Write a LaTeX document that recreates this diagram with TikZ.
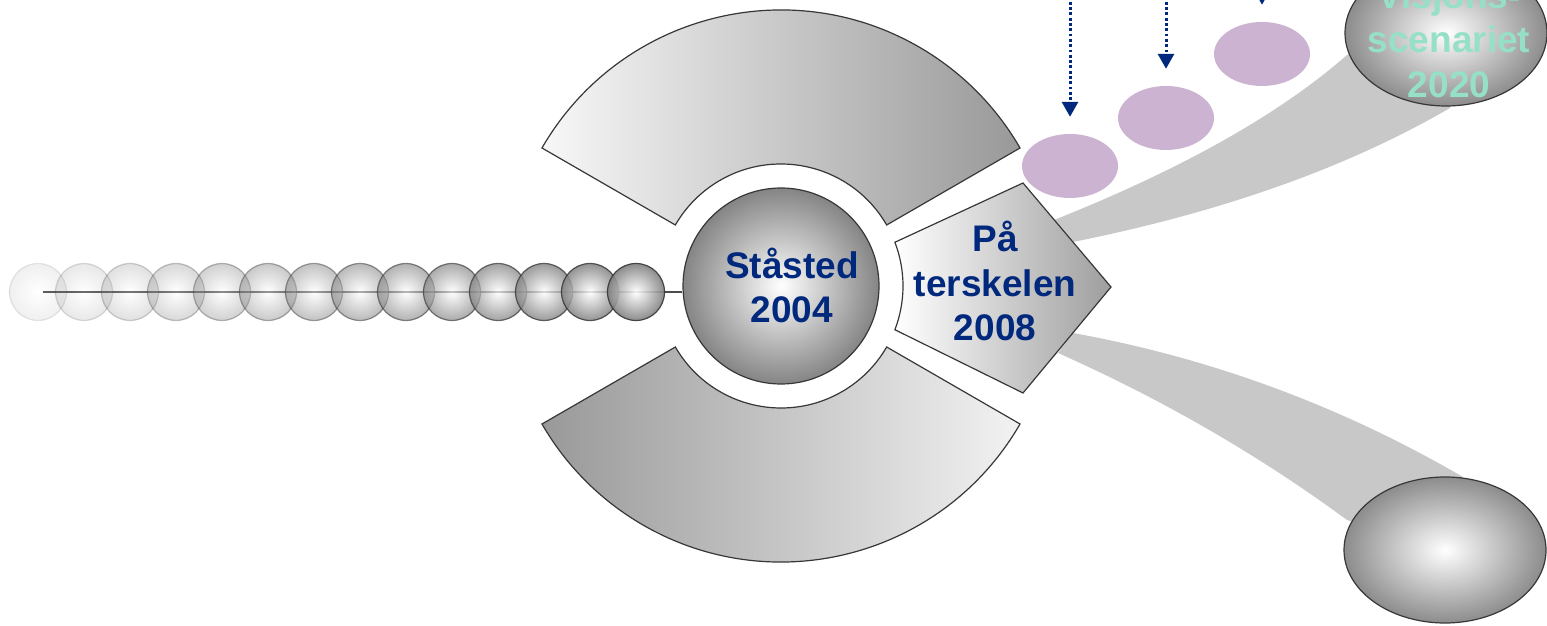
\documentclass[tikz,border=0pt]{standalone}
\usepackage{fontspec}
\setmainfont{Liberation Sans}
\usetikzlibrary{shapes.geometric,arrows.meta}
\definecolor{navy}{RGB}{0,40,125}
\definecolor{mint}{RGB}{150,224,200}
\definecolor{lilac}{RGB}{203,179,209}
\definecolor{bandgray}{RGB}{200,200,200}
\definecolor{rim}{RGB}{55,55,55}
\tikzset{
  ball/.style={circle,draw=rim,line width=1.2pt,inner sep=0,minimum size=57pt,inner color=white,outer color=black!50},
  bigball/.style={circle,draw=rim,line width=1.2pt,inner sep=0,minimum size=196pt,inner color=white,outer color=black!48},
  goal/.style={ellipse,draw=rim,line width=1.2pt,inner sep=0,minimum width=202pt,minimum height=146pt,inner color=white,outer color=black!45},
  milestone/.style={ellipse,fill=lilac,inner sep=0,minimum width=96pt,minimum height=64pt},
  ringtop/.style={draw=rim,line width=1.2pt,left color=black!3,right color=black!40},
  ringbot/.style={draw=rim,line width=1.2pt,left color=black!40,right color=black!5},
  pent/.style={draw=rim,line width=1.2pt,left color=white,right color=black!38},
  chainline/.style={draw=black!70,line width=2.2pt},
  drop/.style={navy,line width=3pt,dash pattern=on 2.8pt off 2.5pt,-{Triangle[width=16pt,length=15pt]}},
  txt/.style={text=navy,font=\fontsize{37}{44.5}\selectfont\bfseries,align=center,inner sep=0}
}
\begin{document}
\begin{tikzpicture}[x=1pt,y=1pt]
\useasboundingbox (0,0) rectangle (1547,626);
\clip (0,0) rectangle (1547,626);

\coordinate (o) at (781,340);
\coordinate (top) at (0,640);

% gray bands
\fill[bandgray] (1054,406) .. controls (1187,459) and (1282,514) .. (1347,571) -- (1446,593) -- (1450,518) .. controls (1350,460) and (1227,415) .. (1073,384) -- cycle;
\fill[bandgray] (1073,293) .. controls (1211,268) and (1341,220) .. (1463,149) -- (1445,76) -- (1347,106) .. controls (1256,173) and (1159,228) .. (1058,273) -- cycle;

% ring pieces
\draw[ringtop] ([shift={(30:122)}]o) arc[start angle=30,end angle=150,radius=122] -- ([shift={(150:276)}]o) arc[start angle=150,end angle=30,radius=276] -- cycle;
\draw[ringbot] ([shift={(210:122)}]o) arc[start angle=210,end angle=330,radius=122] -- ([shift={(330:276)}]o) arc[start angle=330,end angle=210,radius=276] -- cycle;

% arrow piece
\draw[pent] ([shift={(21:122)}]o) -- (1023,443) -- (1111,339) -- (1023,233) -- ([shift={(-21:122)}]o) arc[start angle=-21,end angle=21,radius=122] -- cycle;

% centre
\node[bigball] (sted) at (o) {};

% chain
\coordinate (cstart) at (43,334);
\draw[chainline] (cstart) -- (cstart -| sted.west);
\node[ball,opacity=0.12] (b1) at (38,334) {};
\node[ball,opacity=0.18] (b2) at (84,334) {};
\node[ball,opacity=0.24] (b3) at (130,334) {};
\node[ball,opacity=0.30] (b4) at (176,334) {};
\node[ball,opacity=0.36] (b5) at (222,334) {};
\node[ball,opacity=0.42] (b6) at (268,334) {};
\node[ball,opacity=0.48] (b7) at (314,334) {};
\node[ball,opacity=0.54] (b8) at (360,334) {};
\node[ball,opacity=0.60] (b9) at (406,334) {};
\node[ball,opacity=0.66] (b10) at (452,334) {};
\node[ball,opacity=0.72] (b11) at (498,334) {};
\node[ball,opacity=0.78] (b12) at (544,334) {};
\node[ball,opacity=0.84] (b13) at (590,334) {};
\node[ball,opacity=0.90] (b14) at (636,334) {};

% milestones
\node[milestone] (m1) at (1070,460) {};
\node[milestone] (m2) at (1166,508) {};
\node[milestone] (m3) at (1262,572) {};

% arrows
\draw[drop] (m1.north |- top) -- ([yshift=17pt]m1.north);
\draw[drop] (m2.north |- top) -- ([yshift=17pt]m2.north);
\draw[drop] (m3.north |- top) -- ([yshift=17pt]m3.north);

% goals
\node[goal] (vision) at (1446,593) {};
\node[goal] (other) at (1445,76) {};

% texts
\node[txt] (stedtxt) at (792,340.5) {Ståsted\\2004};
\node[txt] (terskeltxt) at (995,345) {På\\terskelen\\2008};
\node[txt,text=mint] (visiontxt) at (1449,586.5) {Visjons-\\scenariet\\2020};

\end{tikzpicture}
\end{document}
